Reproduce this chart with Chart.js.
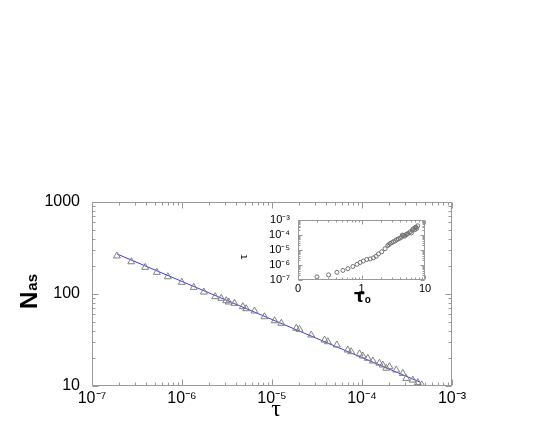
<!DOCTYPE html>
<html>
<head>
<meta charset="utf-8">
<script src="https://cdn.jsdelivr.net/npm/chart.js@4.4.1/dist/chart.umd.min.js"></script>
<style>
  body { margin: 0; background: #fff; }
  #wrap { position: relative; width: 545px; height: 436px; }
  #main { position: absolute; left: 0; top: 0; }
  #inset { position: absolute; left: 230px; top: 205px; }
</style>
</head>
<body>
<div id="wrap">
  <canvas id="main" width="545" height="436"></canvas>
  <canvas id="inset" width="210" height="105"></canvas>
</div>
<script>
// Hauptdiagramm: N_as gegen tau (Dreiecke) und Potenzgesetz-Fit (blaue Linie)
const tauAs = [1.89e-7, 2.73e-7, 3.90e-7, 5.25e-7, 6.95e-7, 9.95e-7, 1.35e-6, 1.75e-6, 2.34e-6, 2.73e-6,
               3.10e-6, 3.31e-6, 3.83e-6, 4.74e-6, 5.17e-6, 6.39e-6, 8.26e-6, 1.07e-5, 1.27e-5, 1.86e-5,
               2.02e-5, 2.73e-5, 3.83e-5, 4.17e-5, 5.25e-5, 6.95e-5, 7.58e-5, 9.39e-5, 1.02e-4, 1.16e-4,
               1.32e-4, 1.56e-4, 1.70e-4, 1.86e-4, 2.02e-4, 2.40e-4, 2.84e-4, 3.10e-4, 3.67e-4, 4.17e-4, 4.60e-4];
const nAs = [259, 224, 195, 172, 154, 134, 118, 105, 93.5, 89.8,
             84.5, 81.8, 79.2, 72.8, 69.2, 65.3, 56.6, 51.2, 48.1, 42.4,
             41.3, 35.8, 31.6, 30.3, 27.9, 24.6, 23.6, 22.3, 21.2, 20.0,
             18.7, 17.7, 16.9, 15.6, 16.2, 14.9, 13.7, 12.1, 11.6, 10.9, 10.3];
const fitTau = [1.9e-7, 4.35e-4];
const fitN = [272, 11.1];

// Inset: tau gegen tau_0 (Kreise)
const tau0 = [0.199, 0.303, 0.41, 0.51, 0.61, 0.73, 0.85, 0.95, 1.07, 1.21,
              1.37, 1.54, 1.70, 1.85, 2.08, 2.35, 2.59, 2.82, 3.18, 3.59,
              4.05, 4.57, 5.15, 5.81, 6.56, 7.22, 7.67,
              2.7, 3.0, 3.4, 3.8, 4.3, 4.8, 5.4, 6.1, 6.9, 7.4, 7.0, 6.3, 5.0, 4.4];
const tauInset = [1.6e-7, 2.2e-7, 3.2e-7, 4.3e-7, 5.6e-7, 7.8e-7, 1.09e-6, 1.44e-6, 1.8e-6, 2.3e-6,
                  2.5e-6, 2.9e-6, 3.7e-6, 5.3e-6, 7.4e-6, 1.18e-5, 1.9e-5, 2.6e-5, 3.45e-5, 4.8e-5,
                  6.0e-5, 8.8e-5, 1.06e-4, 1.54e-4, 2.46e-4, 3.1e-4, 3.9e-4,
                  2.2e-5, 3.0e-5, 3.9e-5, 5.2e-5, 7.0e-5, 8.0e-5, 1.2e-4, 1.3e-4, 2.1e-4, 2.6e-4, 3.0e-4, 2.0e-4, 1.0e-4, 9.5e-5];

// Achsenbeschriftungen
const mainXTicks = [1e-7, 1e-6, 1e-5, 1e-4, 1e-3];
const mainYTicks = [10, 100, 1000];
const insetXTicks = [0.1, 1, 10];
const insetXLabels = ['0', '1', '10'];
const insetYTicks = [1e-7, 1e-6, 1e-5, 1e-4, 1e-3];

Chart.defaults.font.family = '"Liberation Sans", Arial, sans-serif';
Chart.defaults.color = '#000';

const SUP = {'-': '\u207B', '0': '\u2070', '1': '\u00B9', '2': '\u00B2', '3': '\u00B3',
             '4': '\u2074', '5': '\u2075', '6': '\u2076', '7': '\u2077', '8': '\u2078', '9': '\u2079'};
function pow10Label(v) {
    const e = Math.round(Math.log10(v));
    return '10' + String(e).split('').map(c => SUP[c]).join('');
}

// Rahmen mit nach innen zeigenden Haupt- und Nebenstrichen auf allen vier Seiten
function logTickValues(min, max) {
    const out = [];
    for (let d = Math.floor(Math.log10(min)); d <= Math.ceil(Math.log10(max)); d++) {
        for (let k = 1; k <= 9; k++) {
            const v = k * Math.pow(10, d);
            if (v >= min * 0.999 && v <= max * 1.001) out.push({ v: v, major: k === 1 });
        }
    }
    return out;
}

function frameTicks(id, color, majorLen, minorLen) {
    return {
        id: id,
        afterDatasetsDraw(chart) {
            const { ctx, chartArea: a, scales: { x, y } } = chart;
            const L = Math.round(a.left) + 0.5, R = Math.round(a.right) - 0.5;
            const T = Math.round(a.top) + 0.5, B = Math.round(a.bottom) - 0.5;
            ctx.save();
            ctx.strokeStyle = color;
            ctx.lineWidth = 1;
            ctx.beginPath();
            ctx.rect(L, T, R - L, B - T);
            logTickValues(x.min, x.max).forEach(t => {
                const p = Math.round(x.getPixelForValue(t.v)) + 0.5;
                const len = t.major ? majorLen : minorLen;
                ctx.moveTo(p, B); ctx.lineTo(p, B - len);
                ctx.moveTo(p, T); ctx.lineTo(p, T + len);
            });
            logTickValues(y.min, y.max).forEach(t => {
                const p = Math.round(y.getPixelForValue(t.v)) + 0.5;
                const len = t.major ? majorLen : minorLen;
                ctx.moveTo(L, p); ctx.lineTo(L + len, p);
                ctx.moveTo(R, p); ctx.lineTo(R - len, p);
            });
            ctx.stroke();
            ctx.restore();
        }
    };
}

// Achsentitel mit Index (N_as, tau, tau_o)
const mainTitles = {
    id: 'mainTitles',
    afterDraw(chart) {
        const ctx = chart.ctx;
        ctx.save();
        ctx.fillStyle = '#000';
        ctx.textBaseline = 'alphabetic';
        ctx.translate(37, 309);
        ctx.rotate(-Math.PI / 2);
        ctx.textAlign = 'left';
        ctx.font = 'bold 24px "Liberation Sans"';
        ctx.fillText('N', 0, 0);
        const w = ctx.measureText('N').width;
        ctx.font = 'bold 15px "Liberation Sans"';
        ctx.fillText('as', w + 1, 0);
        ctx.restore();

        ctx.save();
        ctx.fillStyle = '#000';
        ctx.font = '24px "Liberation Serif"';
        ctx.textAlign = 'center';
        ctx.textBaseline = 'alphabetic';
        ctx.fillText('\u03C4', 276, 416);
        ctx.restore();
    }
};

const insetTitles = {
    id: 'insetTitles',
    afterDraw(chart) {
        const ctx = chart.ctx;
        ctx.save();
        ctx.fillStyle = '#000';
        ctx.textBaseline = 'alphabetic';
        ctx.textAlign = 'left';
        ctx.font = 'bold 17px "DejaVu Sans"';
        ctx.fillText('\u03C4', 124, 97);
        const w = ctx.measureText('\u03C4').width;
        ctx.font = 'bold 10px "Liberation Sans"';
        ctx.fillText('o', 124 + w, 98);
        ctx.restore();

        ctx.save();
        ctx.fillStyle = '#000';
        ctx.translate(14, 52);
        ctx.rotate(-Math.PI / 2);
        ctx.font = '13px "Liberation Serif"';
        ctx.textAlign = 'center';
        ctx.textBaseline = 'middle';
        ctx.fillText('\u03C4', 0, 0);
        ctx.restore();
    }
};

const mainChart = new Chart(document.getElementById('main'), {
    type: 'scatter',
    data: {
        datasets: [
            {
                label: 'N_as',
                data: tauAs.map((t, i) => ({ x: t, y: nAs[i] })),
                pointStyle: 'triangle',
                pointRadius: 4,
                borderColor: '#808080',
                backgroundColor: 'rgba(0,0,0,0)',
                borderWidth: 1
            },
            {
                label: 'Fit',
                data: fitTau.map((t, i) => ({ x: t, y: fitN[i] })),
                showLine: true,
                pointRadius: 0,
                borderColor: '#3c3cf0',
                borderWidth: 1,
                fill: false
            }
        ]
    },
    options: {
        responsive: false,
        animation: false,
        events: [],
        layout: { padding: { left: 0, top: 202, right: 93, bottom: 0 } },
        plugins: { legend: { display: false }, tooltip: { enabled: false } },
        scales: {
            x: {
                type: 'logarithmic',
                min: 1e-7,
                max: 1e-3,
                grid: { display: false, drawTicks: false },
                border: { display: false },
                afterBuildTicks: s => { s.ticks = mainXTicks.map(v => ({ value: v })); },
                afterFit: s => { s.height = 50; },
                ticks: {
                    autoSkip: false,
                    maxRotation: 0,
                    padding: 3,
                    font: { size: 16 },
                    callback: v => pow10Label(v)
                }
            },
            y: {
                type: 'logarithmic',
                min: 10,
                max: 1000,
                grid: { display: false, drawTicks: false },
                border: { display: false },
                afterBuildTicks: s => { s.ticks = mainYTicks.map(v => ({ value: v })); },
                afterFit: s => { s.width = 92; },
                ticks: {
                    autoSkip: false,
                    padding: 12,
                    font: { size: 16 },
                    callback: v => String(v)
                }
            }
        }
    },
    plugins: [frameTicks('mainFrame', '#999', 6, 3), mainTitles]
});

const insetChart = new Chart(document.getElementById('inset'), {
    type: 'scatter',
    data: {
        datasets: [{
            label: 'tau',
            data: tau0.map((t, i) => ({ x: t, y: tauInset[i] })),
            pointStyle: 'circle',
            pointRadius: 2,
            borderColor: '#707070',
            backgroundColor: 'rgba(0,0,0,0)',
            borderWidth: 1
        }]
    },
    options: {
        responsive: false,
        animation: false,
        events: [],
        layout: { padding: { left: 0, top: 10, right: 15, bottom: 0 } },
        plugins: { legend: { display: false }, tooltip: { enabled: false } },
        scales: {
            x: {
                type: 'logarithmic',
                min: 0.1,
                max: 10,
                grid: { display: false, drawTicks: false },
                border: { display: false },
                afterBuildTicks: s => { s.ticks = insetXTicks.map(v => ({ value: v })); },
                afterFit: s => { s.height = 30; },
                ticks: {
                    autoSkip: false,
                    maxRotation: 0,
                    padding: 2,
                    font: { size: 11 },
                    callback: (v, i) => insetXLabels[i]
                }
            },
            y: {
                type: 'logarithmic',
                min: 1e-7,
                max: 1e-3,
                grid: { display: false, drawTicks: false },
                border: { display: false },
                afterBuildTicks: s => { s.ticks = insetYTicks.map(v => ({ value: v })); },
                afterFit: s => { s.width = 68; },
                ticks: {
                    autoSkip: false,
                    padding: 8,
                    font: { size: 11 },
                    callback: v => pow10Label(v)
                }
            }
        }
    },
    plugins: [frameTicks('insetFrame', '#999', 4, 2), insetTitles]
});
</script>
</body>
</html>
